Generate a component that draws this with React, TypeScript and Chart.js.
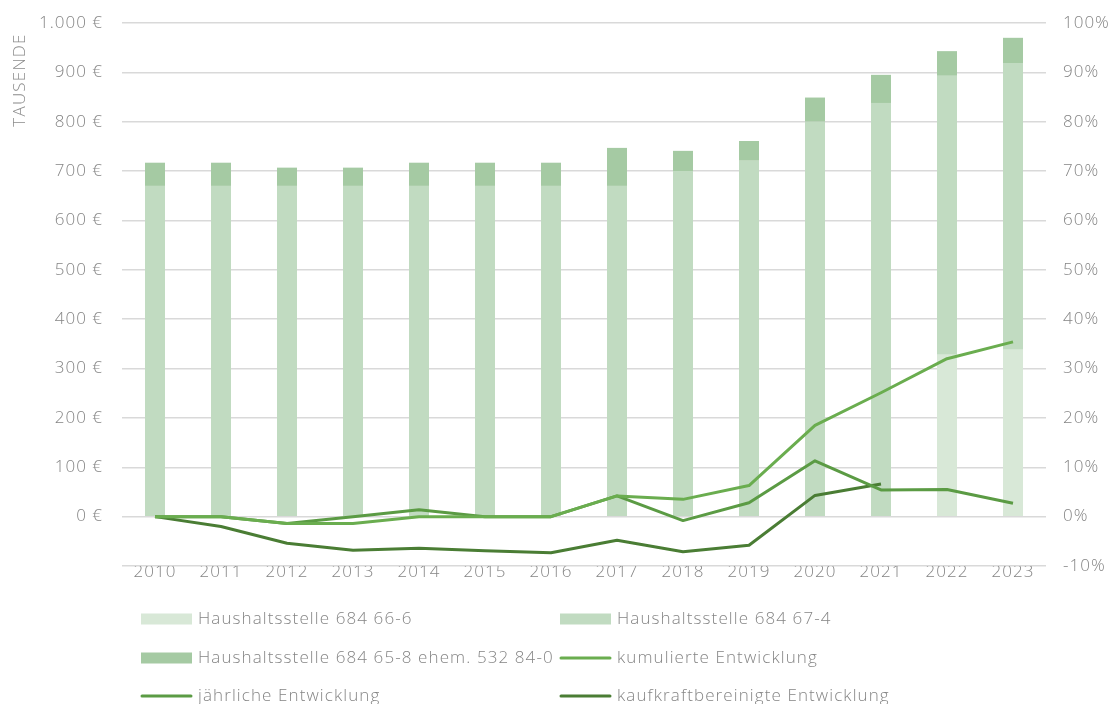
import React, { useEffect, useRef } from "react";
import { Chart, registerables } from "chart.js";

Chart.register(...registerables);

const years = ["2010","2011","2012","2013","2014","2015","2016","2017","2018","2019","2020","2021","2022","2023"];
const hs6666 = [0,0,0,0,0,0,0,0,0,0,0,0,328,338];
const hs6674 = [670,670,670,670,670,670,670,670,700,721,800,838,565,581];
const hs6658 = [47,47,37,37,47,47,47,77,41,40,49,57,50,51];
const kumuliert = [0,0,-1.4,-1.4,0,0,0,4.2,3.5,6.3,18.5,25.1,32.0,35.4];
const jaehrlich = [0,0,-1.4,0,1.4,0,0,4.2,-0.8,2.8,11.3,5.4,5.5,2.7];
const kaufkraft = [0,-2.0,-5.4,-6.8,-6.4,-6.9,-7.3,-4.8,-7.1,-5.8,4.3,6.6,null,null];
const leftTicks = { min: -100, max: 1000, step: 100 };
const rightTicks = { min: -10, max: 100, step: 10 };
const axisTitle = "TAUSENDE";

const FONT = "'Open Sans', sans-serif";
const GRAY = "#858585";

const C_66 = "#d8e8d7";
const C_67 = "#c1dbc1";
const C_65 = "#a5caa3";
const C_KUM = "#6aad4f";
const C_JAE = "#5b9b44";
const C_KKB = "#4a7d34";

const legendItems = [
  { label: "Haushaltsstelle 684 66-6", type: "box", color: C_66 },
  { label: "Haushaltsstelle 684 67-4", type: "box", color: C_67 },
  { label: "Haushaltsstelle 684 65-8 ehem. 532 84-0", type: "box", color: C_65 },
  { label: "kumulierte Entwicklung", type: "line", color: C_KUM },
  { label: "jährliche Entwicklung", type: "line", color: C_JAE },
  { label: "kaufkraftbereinigte Entwicklung", type: "line", color: C_KKB },
];

const spacingPlugin = {
  id: "spacing",
  beforeDraw(chart: any) {
    (chart.ctx as any).letterSpacing = "1px";
  },
};

const legendPlugin = {
  id: "gridLegend",
  afterDraw(chart: any) {
    const ctx = chart.ctx;
    const cols = [141, 560];
    const rows = [619, 658, 696];
    ctx.save();
    (ctx as any).letterSpacing = "1.1px";
    ctx.font = `300 17px ${FONT}`;
    ctx.textBaseline = "middle";
    legendItems.forEach((it, i) => {
      const x = cols[i % 2];
      const y = rows[Math.floor(i / 2)];
      if (it.type === "box") {
        ctx.fillStyle = it.color;
        ctx.fillRect(x, y - 5.5, 51, 11);
      } else {
        ctx.strokeStyle = it.color;
        ctx.lineWidth = 3;
        ctx.lineCap = "round";
        ctx.beginPath();
        ctx.moveTo(x + 1, y);
        ctx.lineTo(x + 50, y);
        ctx.stroke();
      }
      ctx.fillStyle = GRAY;
      ctx.fillText(it.label, x + 57, y);
    });
    ctx.translate(20, 80);
    ctx.rotate(-Math.PI / 2);
    ctx.textAlign = "center";
    ctx.fillStyle = "#8c8c8c";
    (ctx as any).letterSpacing = "1.2px";
    ctx.font = `300 17px ${FONT}`;
    ctx.fillText(axisTitle, 0, 0);
    ctx.restore();
  },
};

export default function App() {
  const ref = useRef<HTMLCanvasElement>(null);
  useEffect(() => {
    document.body.style.margin = "0";
    const canvas = ref.current!;
    const fitY = (w: number) => (s: any) => { s.width = w; s.paddingTop = 0; s.paddingBottom = 0; };
    const tickFont = { family: FONT, size: 17, weight: "300" as any };
    const chart = new Chart(canvas, {
      type: "bar",
      data: {
        labels: years,
        datasets: [
          { type: "line", label: "kumulierte Entwicklung", data: kumuliert, yAxisID: "y1", borderColor: C_KUM, backgroundColor: C_KUM, borderWidth: 3, pointRadius: 0, tension: 0, borderJoinStyle: "round", order: 0 } as any,
          { type: "line", label: "jährliche Entwicklung", data: jaehrlich, yAxisID: "y1", borderColor: C_JAE, backgroundColor: C_JAE, borderWidth: 3, pointRadius: 0, tension: 0, borderJoinStyle: "round", order: 0 } as any,
          { type: "line", label: "kaufkraftbereinigte Entwicklung", data: kaufkraft, yAxisID: "y1", borderColor: C_KKB, backgroundColor: C_KKB, borderWidth: 3, pointRadius: 0, tension: 0, borderJoinStyle: "round", spanGaps: false, order: 0 } as any,
          { type: "bar", label: "Haushaltsstelle 684 66-6", data: hs6666, backgroundColor: C_66, yAxisID: "y", stack: "s", order: 1, barPercentage: 0.303, categoryPercentage: 1 },
          { type: "bar", label: "Haushaltsstelle 684 67-4", data: hs6674, backgroundColor: C_67, yAxisID: "y", stack: "s", order: 1, barPercentage: 0.303, categoryPercentage: 1 },
          { type: "bar", label: "Haushaltsstelle 684 65-8 ehem. 532 84-0", data: hs6658, backgroundColor: C_65, yAxisID: "y", stack: "s", order: 1, barPercentage: 0.303, categoryPercentage: 1 },
        ],
      },
      options: {
        responsive: false,
        animation: false,
        layout: { padding: { top: 23, bottom: 108, left: 0, right: 0 } },
        plugins: { legend: { display: false }, tooltip: { enabled: false } },
        scales: {
          x: {
            stacked: true,
            grid: { display: false, drawTicks: false },
            border: { display: false },
            ticks: { color: GRAY, font: tickFont, padding: -4, maxRotation: 0, autoSkip: false },
            afterFit: (s: any) => { s.height = 30; },
          },
          y: {
            stacked: true,
            position: "left",
            min: leftTicks.min,
            max: leftTicks.max,
            grid: { color: "#d9d9d9", lineWidth: 1.5, drawTicks: false },
            border: { display: false },
            ticks: {
              stepSize: leftTicks.step,
              color: GRAY,
              padding: 19,
              font: tickFont,
              callback: (v: any) => (v < 0 ? "" : Number(v).toLocaleString("de-DE") + " €"),
            },
            afterFit: fitY(122),
          },
          y1: {
            position: "right",
            min: rightTicks.min,
            max: rightTicks.max,
            grid: { display: false, drawTicks: false },
            border: { display: false },
            ticks: {
              stepSize: rightTicks.step,
              color: GRAY,
              padding: 17,
              font: tickFont,
              callback: (v: any) => v + "%",
            },
            afterFit: fitY(64),
          },
        },
      },
      plugins: [spacingPlugin, legendPlugin],
    });
    return () => chart.destroy();
  }, []);
  return <canvas ref={ref} width={1110} height={704} style={{ display: "block" }} />;
}
